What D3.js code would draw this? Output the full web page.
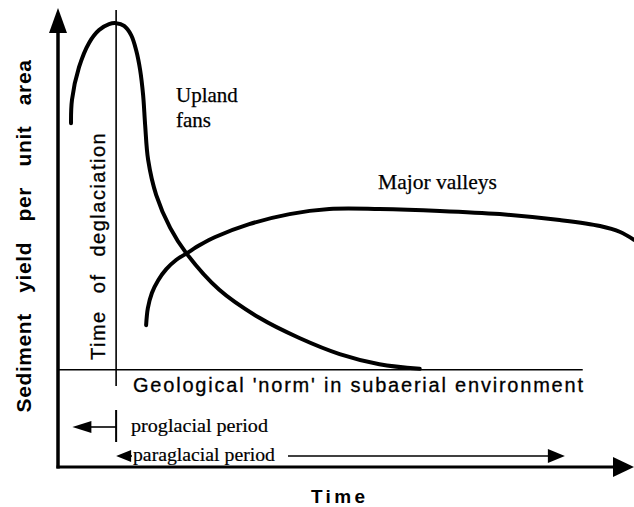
<!DOCTYPE html>
<html><head><meta charset="utf-8">
<script src="https://cdn.jsdelivr.net/npm/d3@7"></script>
<style>body{margin:0;background:#fff}svg{display:block}</style>
</head><body>
<svg id="chart" width="634" height="507"></svg>
<script>
// ---- data (time units 0-100, yield units 0-100) ----
const uplandTime  = [2.26,2.43,3.65,5.39,7.13,8.87,10.09,11.48,12.70,13.57,14.26,14.78,15.13,15.65,17.04,19.48,22.26,28.0,34.96,41.9,48.9,55.8,62.8];
const uplandYield = [74.9,80.0,87.1,92.4,95.2,96.5,96.7,96.1,94.1,90.8,86.5,81.0,74.5,66.9,59.3,52.1,46.6,38.6,32.5,28.1,24.6,22.4,21.4];
const valleyTime  = [15.3,15.6,16.3,17.4,18.8,20.5,22.4,24.7,27.3,33.2,40.2,47.1,55.8,66.3,76.7,87.1,94.1,97.6,100];
const valleyYield = [30.9,34.6,37.9,40.7,43.1,45.1,46.6,48.4,50.1,52.9,55.1,56.2,56.2,55.8,55.1,53.8,52.5,51.2,49.5];
const deglaciationTime = 10.09;
const normYield = 21.2;
const normEnd = 91.1;
const proglacialSpan = [2.5, 10.09];
const paraglacialSpan = [10.09, 88.0];
const seriesLabels = ["Upland", "fans", "Major valleys"];
const axisLabels = ["Sediment yield per unit area", "Time"];
const deglaciationLabel = "Time of deglaciation";
const normLabel = "Geological 'norm' in subaerial environment";
const periodLabels = ["proglacial period", "paraglacial period"];

const svg = d3.select("#chart");
const x = d3.scaleLinear().domain([0,100]).range([58,634]);
const y = d3.scaleLinear().domain([0,100]).range([467,8]);

const ink = "#000";
// axes
svg.append("line").attr("x1",x(0)).attr("x2",x(0)).attr("y1",y(0)+1.5).attr("y2",30)
  .attr("stroke",ink).attr("stroke-width",3.5);
svg.append("line").attr("x1",x(0)-1.5).attr("x2",614).attr("y1",y(0)).attr("y2",y(0))
  .attr("stroke",ink).attr("stroke-width",3);
svg.append("path").attr("d",`M${x(0)},${y(100)} L${x(0)-9},33 L${x(0)+9},33 Z`).attr("fill",ink);
svg.append("path").attr("d",`M${x(100)},${y(0)} L613,${y(0)-10} L613,${y(0)+10} Z`).attr("fill",ink);

// deglaciation line
svg.append("line").attr("x1",x(deglaciationTime)).attr("x2",x(deglaciationTime))
  .attr("y1",10).attr("y2",386).attr("stroke",ink).attr("stroke-width",1.6);
// norm line
svg.append("line").attr("x1",x(0)).attr("x2",x(normEnd)).attr("y1",y(normYield)).attr("y2",y(normYield))
  .attr("stroke",ink).attr("stroke-width",1.6);

// curves
const line = d3.line().x(d=>x(d[0])).y(d=>y(d[1])).curve(d3.curveCatmullRom.alpha(0.5));
svg.append("path").datum(d3.zip(uplandTime,uplandYield)).attr("d",line)
  .attr("fill","none").attr("stroke",ink).attr("stroke-width",4).attr("stroke-linecap","round");
svg.append("path").datum(d3.zip(valleyTime,valleyYield)).attr("d",line)
  .attr("fill","none").attr("stroke",ink).attr("stroke-width",4).attr("stroke-linecap","round");

// labels
const serif = "'Liberation Serif','Times New Roman',serif";
const sans = "'Liberation Sans',Arial,sans-serif";
svg.append("text").attr("x",176).attr("y",102).attr("font-family",serif).attr("font-size",21)
  .attr("stroke",ink).attr("stroke-width",0.25).text(seriesLabels[0]);
svg.append("text").attr("x",176).attr("y",127).attr("font-family",serif).attr("font-size",21)
  .attr("stroke",ink).attr("stroke-width",0.25).text(seriesLabels[1]);
svg.append("text").attr("x",378).attr("y",189).attr("font-family",serif).attr("font-size",21)
  .attr("stroke",ink).attr("stroke-width",0.25)
  .attr("textLength",119).attr("lengthAdjust","spacingAndGlyphs").text(seriesLabels[2]);

svg.append("text").attr("transform","translate(31,236) rotate(-90)").attr("text-anchor","middle")
  .attr("font-family",sans).attr("font-weight","bold").attr("font-size",21)
  .attr("word-spacing",14).attr("letter-spacing",0.6).text(axisLabels[0]);
svg.append("text").attr("x",311).attr("y",503)
  .attr("font-family",sans).attr("font-weight","bold").attr("font-size",19)
  .attr("textLength",54).attr("lengthAdjust","spacing").text(axisLabels[1]);

svg.append("text").attr("transform","translate(105,360) rotate(-90)")
  .attr("font-family",sans).attr("font-size",20).attr("stroke",ink).attr("stroke-width",0.3)
  .attr("word-spacing",10).attr("letter-spacing",1.5).text(deglaciationLabel);

svg.append("text").attr("x",133).attr("y",392).attr("font-family",sans).attr("font-size",20)
  .attr("stroke",ink).attr("stroke-width",0.3)
  .attr("textLength",450).attr("lengthAdjust","spacing").text(normLabel);

// period annotations
const py1 = 427, py2 = 456;
svg.append("line").attr("x1",x(deglaciationTime)).attr("x2",x(deglaciationTime)).attr("y1",410).attr("y2",442)
  .attr("stroke",ink).attr("stroke-width",2);
svg.append("line").attr("x1",x(proglacialSpan[0])+15).attr("x2",x(proglacialSpan[1])).attr("y1",py1).attr("y2",py1)
  .attr("stroke",ink).attr("stroke-width",1.6);
svg.append("path").attr("d",`M${x(proglacialSpan[0])},${py1} L${x(proglacialSpan[0])+19},${py1-6} L${x(proglacialSpan[0])+19},${py1+6} Z`).attr("fill",ink);
svg.append("text").attr("x",131).attr("y",432).attr("font-family",serif).attr("font-size",19)
  .attr("stroke",ink).attr("stroke-width",0.2)
  .attr("textLength",137).attr("lengthAdjust","spacingAndGlyphs").text(periodLabels[0]);

svg.append("path").attr("d",`M${x(paraglacialSpan[0])},${py2} L${x(paraglacialSpan[0])+15},${py2-6} L${x(paraglacialSpan[0])+15},${py2+6} Z`).attr("fill",ink);
svg.append("line").attr("x1",x(paraglacialSpan[0])+10).attr("x2",132).attr("y1",py2).attr("y2",py2)
  .attr("stroke",ink).attr("stroke-width",1.6);
svg.append("text").attr("x",133).attr("y",461).attr("font-family",serif).attr("font-size",19)
  .attr("stroke",ink).attr("stroke-width",0.2)
  .attr("textLength",142).attr("lengthAdjust","spacingAndGlyphs").text(periodLabels[1]);
svg.append("line").attr("x1",288).attr("x2",x(paraglacialSpan[1])-10).attr("y1",py2).attr("y2",py2)
  .attr("stroke",ink).attr("stroke-width",1.6);
svg.append("path").attr("d",`M${x(paraglacialSpan[1])},${py2} L${x(paraglacialSpan[1])-17},${py2-7} L${x(paraglacialSpan[1])-17},${py2+7} Z`).attr("fill",ink);
</script>
</body></html>
